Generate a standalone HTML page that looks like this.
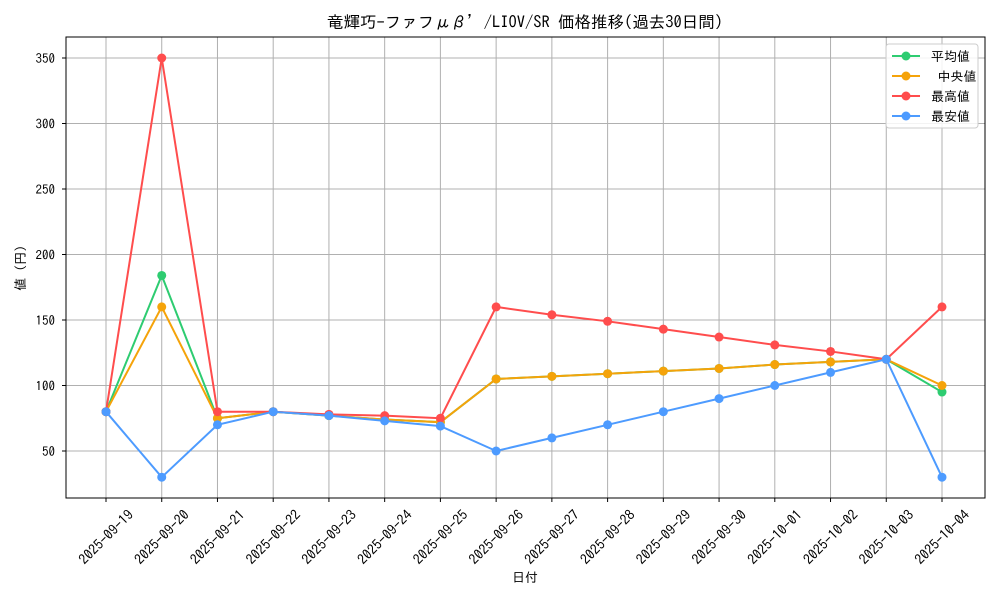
<!DOCTYPE html>
<html><head><meta charset="utf-8"><style>
body{margin:0;background:#fff;width:1000px;height:600px;overflow:hidden}
text{font-family:"IPAGothic","Liberation Mono","Noto Sans CJK JP",monospace;fill:#000}
</style></head><body>
<svg id="s" width="1000" height="600" xmlns="http://www.w3.org/2000/svg"></svg>
<script>
const s=document.getElementById('s');
const X=i=>106+i*(942-106)/15, Y=v=>451-(v-50)*393/300;
let h='';
const dates=['2025-09-19','2025-09-20','2025-09-21','2025-09-22','2025-09-23','2025-09-24','2025-09-25','2025-09-26','2025-09-27','2025-09-28','2025-09-29','2025-09-30','2025-10-01','2025-10-02','2025-10-03','2025-10-04'];
dates.forEach((d,i)=>{const x=X(i);h+=`<line x1="${x}" y1="37" x2="${x}" y2="498" stroke="#b0b0b0" stroke-width="1"/><line x1="${x}" y1="498" x2="${x}" y2="502" stroke="#000"/>`;
h+=`<text transform="translate(${x},${537}) rotate(-45)" text-anchor="middle" dy="5" font-size="14">${d}</text>`;});
[50,100,150,200,250,300,350].forEach(v=>{const y=Y(v);h+=`<line x1="66" y1="${y}" x2="985" y2="${y}" stroke="#b0b0b0" stroke-width="1"/><line x1="62" y1="${y}" x2="66" y2="${y}" stroke="#000"/><text x="55" y="${y+5}" text-anchor="end" font-size="13">${v}</text>`;});
const ser=[
['#2ecc71',[80,184,75,80,77,74,72,105,107,109,111,113,116,118,120,95]],
['#f5a30a',[80,160,75,80,77,74,72,105,107,109,111,113,116,118,120,100]],
['#ff4d4d',[80,350,80,80,78,77,75,160,154,149,143,137,131,126,120,160]],
['#4d9bff',[80,30,70,80,77,73,69,50,60,70,80,90,100,110,120,30]]];
ser.forEach(([c,d])=>{h+=`<polyline fill="none" stroke="${c}" stroke-width="2" points="${d.map((v,i)=>X(i)+','+Y(v)).join(' ')}"/>`;
d.forEach((v,i)=>h+=`<circle cx="${X(i)}" cy="${Y(v)}" r="4.5" fill="${c}"/>`);});
h+=`<rect x="66" y="37" width="919" height="461" fill="none" stroke="#000" stroke-width="1"/>`;
h+=`<text x="525" y="28" text-anchor="middle" font-size="16.5">竜輝巧-ファフμβ’/LIOV/SR 価格推移(過去30日間)</text>`;
h+=`<text x="525" y="582" text-anchor="middle" font-size="13">日付</text>`;
h+=`<text transform="translate(25,268) rotate(-90)" text-anchor="middle" font-size="13">値 (円)</text>`;
h+=`<rect x="886" y="44" width="92" height="84" rx="3" fill="#fff" fill-opacity="0.85" stroke="#ccc"/>`;
['平均値',' 中央値','最高値','最安値'].forEach((t,i)=>{const y=56+i*20,c=ser[i][0];
h+=`<line x1="892" y1="${y}" x2="920" y2="${y}" stroke="${c}" stroke-width="2"/><circle cx="906" cy="${y}" r="4.5" fill="${c}"/><text x="931" y="${y+5}" font-size="13" xml:space="preserve">${t}</text>`;});
s.innerHTML=h;
</script>
</body></html>
